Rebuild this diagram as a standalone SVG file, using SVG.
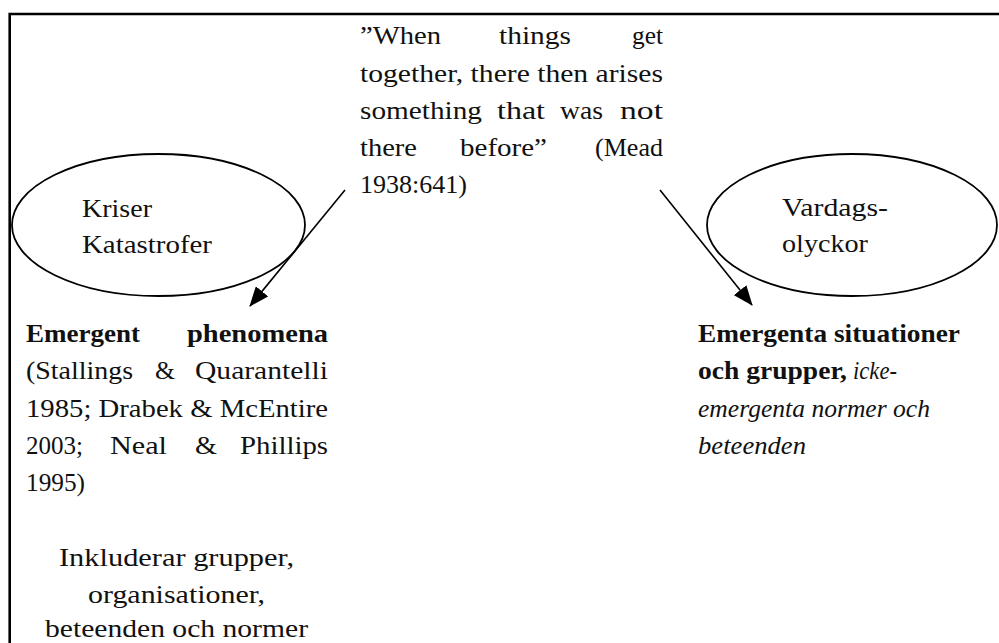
<svg xmlns="http://www.w3.org/2000/svg" width="999" height="643" viewBox="0 0 999 643">
<style>
text{font-family:"Liberation Serif","Times New Roman",serif;font-size:26px;fill:#111}
.b{font-weight:bold}
.i{font-style:italic}
.c{text-anchor:middle}
.shape{fill:none;stroke:#000;stroke-width:1.8}
.edge{fill:none;stroke:#000;stroke-width:1.6}
</style>
<defs>
<marker id="ah" markerUnits="userSpaceOnUse" markerWidth="20" markerHeight="16" viewBox="0 0 20 16" refX="19" refY="8" orient="auto">
<path d="M0,0 L20,8 L0,16 Z" fill="#000"/>
</marker>
</defs>
<rect width="999" height="643" fill="#fff"/>
<path d="M9.7,643 V14 H999" fill="none" stroke="#000" stroke-width="2.6"/>

<g id="quote">
<text x="360" y="44" textLength="81" lengthAdjust="spacingAndGlyphs">”When</text>
<text x="499" y="44" textLength="72" lengthAdjust="spacingAndGlyphs">things</text>
<text x="632" y="44" textLength="31" lengthAdjust="spacingAndGlyphs">get</text>
<text x="360" y="81.5" textLength="303" lengthAdjust="spacingAndGlyphs">together, there then arises</text>
<text x="360" y="119" textLength="122" lengthAdjust="spacingAndGlyphs">something</text>
<text x="497" y="119" textLength="48" lengthAdjust="spacingAndGlyphs">that</text>
<text x="560" y="119" textLength="43" lengthAdjust="spacingAndGlyphs">was</text>
<text x="620" y="119" textLength="43" lengthAdjust="spacingAndGlyphs">not</text>
<text x="360" y="156" textLength="57" lengthAdjust="spacingAndGlyphs">there</text>
<text x="460" y="156" textLength="87" lengthAdjust="spacingAndGlyphs">before”</text>
<text x="595" y="156" textLength="68" lengthAdjust="spacingAndGlyphs">(Mead</text>
<text x="360" y="193" textLength="107" lengthAdjust="spacingAndGlyphs">1938:641)</text>
</g>

<g id="kriser">
<ellipse class="shape" cx="158.5" cy="225" rx="146.5" ry="71"/>
<text x="82" y="217" textLength="70" lengthAdjust="spacingAndGlyphs">Kriser</text>
<text x="82" y="253" textLength="130" lengthAdjust="spacingAndGlyphs">Katastrofer</text>
</g>

<g id="vardags">
<ellipse class="shape" cx="852" cy="225" rx="145" ry="71"/>
<text x="782" y="216" textLength="106" lengthAdjust="spacingAndGlyphs">Vardags-</text>
<text x="782" y="252" textLength="86" lengthAdjust="spacingAndGlyphs">olyckor</text>
</g>

<g id="emergent-phenomena">
<text class="b" x="26" y="342" textLength="114" lengthAdjust="spacingAndGlyphs">Emergent</text>
<text class="b" x="187" y="342" textLength="141" lengthAdjust="spacingAndGlyphs">phenomena</text>
<text x="26" y="379.3" textLength="107" lengthAdjust="spacingAndGlyphs">(Stallings</text>
<text x="155" y="379.3" textLength="20" lengthAdjust="spacingAndGlyphs">&amp;</text>
<text x="195" y="379.3" textLength="133" lengthAdjust="spacingAndGlyphs">Quarantelli</text>
<text x="26" y="416.6" textLength="302" lengthAdjust="spacingAndGlyphs">1985; Drabek &amp; McEntire</text>
<text x="26" y="453.9" textLength="57" lengthAdjust="spacingAndGlyphs">2003;</text>
<text x="110" y="453.9" textLength="57" lengthAdjust="spacingAndGlyphs">Neal</text>
<text x="195" y="453.9" textLength="22" lengthAdjust="spacingAndGlyphs">&amp;</text>
<text x="240" y="453.9" textLength="88" lengthAdjust="spacingAndGlyphs">Phillips</text>
<text x="26" y="491.2" textLength="59" lengthAdjust="spacingAndGlyphs">1995)</text>
<text x="59" y="565.8" textLength="235" lengthAdjust="spacingAndGlyphs">Inkluderar grupper,</text>
<text x="88" y="603.1" textLength="177" lengthAdjust="spacingAndGlyphs">organisationer,</text>
<text x="45" y="637" textLength="263" lengthAdjust="spacingAndGlyphs">beteenden och normer</text>
</g>

<g id="emergenta-situationer">
<text class="b" x="698" y="342" textLength="262" lengthAdjust="spacingAndGlyphs">Emergenta situationer</text>
<text class="b" x="698" y="379.3" textLength="149" lengthAdjust="spacingAndGlyphs">och grupper,</text>
<text class="i" x="853" y="379.3" textLength="44" lengthAdjust="spacingAndGlyphs">icke-</text>
<text class="i" x="698" y="416.6" textLength="232" lengthAdjust="spacingAndGlyphs">emergenta normer och</text>
<text class="i" x="698" y="453.9" textLength="108" lengthAdjust="spacingAndGlyphs">beteenden</text>
</g>

<g id="connectors">
<line class="edge" x1="345" y1="190" x2="250" y2="306" marker-end="url(#ah)"/>
<line class="edge" x1="660" y1="190" x2="752" y2="305" marker-end="url(#ah)"/>
</g>
</svg>
